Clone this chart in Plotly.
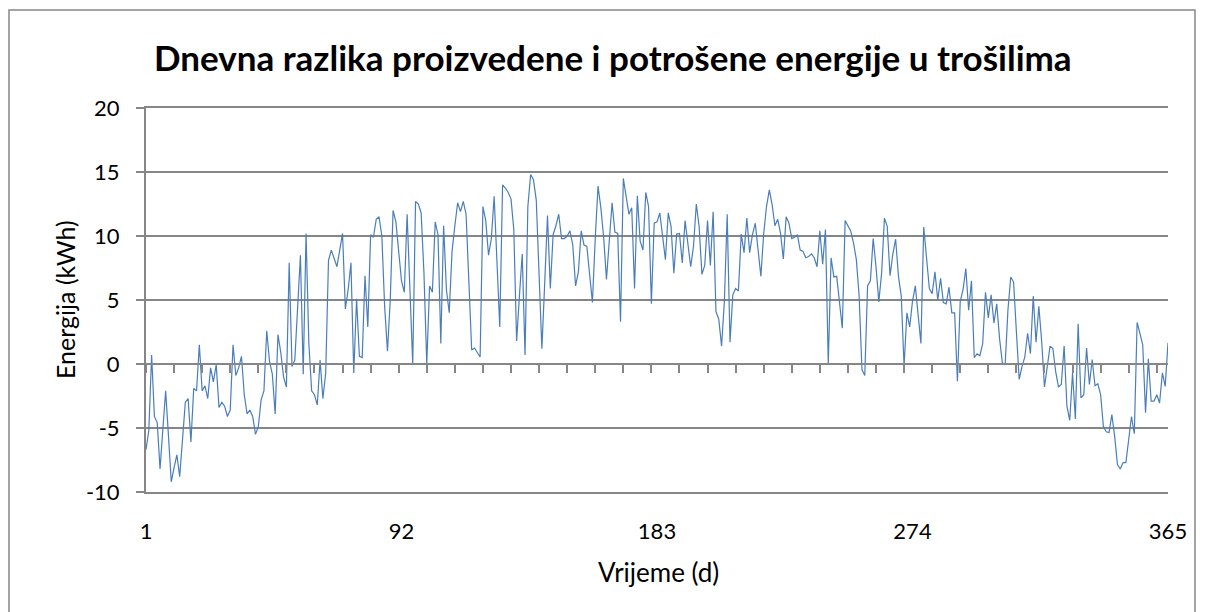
import plotly.graph_objects as go

# Daily difference between produced and consumed energy (kWh), days 1..365
days = list(range(1, 366))
energy_kwh = [
    # 1-41
    -6.7, -5.2, 0.7, -4.1, -4.6, -8.2, -5.1, -2.1, -5.6, -9.2,
    -8.1, -7.1, -8.8, -5.6, -3.0, -2.7, -6.1, -1.9, -2.1, 1.5,
    -2.1, -1.7, -2.7, -0.3, -1.4, -0.05, -3.4, -3.0, -3.3, -4.1,
    -3.6, 1.5, -0.9, -0.3, 0.6, -2.4, -3.9, -3.6, -4.1, -5.5,
    -4.9,
    # 42-82
    -2.8, -2.1, 2.6, 0.2, -0.8, -3.9, 2.3, 0.9, -1.0, -1.8,
    7.9, -0.2, 0.3, 4.5, 8.5, -0.8, 10.2, 1.6, -2.1, -2.4,
    -3.2, 0.3, -2.7, -0.7, 8.1, 8.9, 8.3, 7.6, 8.9, 10.2,
    4.3, 5.8, 7.9, -0.7, 5.1, 0.6, 0.5, 6.9, 2.9, 10.1,
    9.9,
    # 83-123
    11.3, 11.5, 10.0, 4.5, 1.0, 5.0, 12.0, 11.1, 8.9, 6.5,
    5.6, 11.7, 5.8, 0.0, 12.7, 12.5, 11.8, 7.1, 0.0, 6.1,
    5.6, 11.1, 10.1, 1.6, 10.8, 5.8, 4.0, 8.8, 10.8, 12.6,
    11.9, 12.7, 11.7, 6.1, 1.1, 1.25, 0.9, 0.55, 12.3, 11.2,
    8.5,
    # 124-164
    9.8, 13.1, 8.5, 2.9, 14.0, 13.75, 13.4, 12.9, 10.5, 1.8,
    5.3, 8.6, 0.7, 12.3, 14.8, 14.4, 12.8, 6.5, 1.2, 6.3,
    11.6, 5.9, 10.1, 10.8, 11.7, 9.8, 9.8, 10.0, 10.4, 9.3,
    6.1, 7.2, 10.4, 9.3, 9.2, 7.0, 4.8, 9.8, 13.9, 12.2,
    9.9,
    # 165-205
    6.6, 9.7, 12.6, 10.3, 10.2, 3.3, 14.5, 13.1, 11.7, 12.2,
    5.9, 13.15, 9.6, 8.9, 13.4, 12.3, 4.7, 11.0, 11.1, 11.8,
    10.1, 8.15, 11.8, 10.75, 7.1, 10.15, 10.2, 7.9, 11.2, 9.3,
    7.6, 9.2, 12.5, 10.75, 7.0, 7.7, 11.2, 7.7, 11.9, 4.1,
    3.5,
    # 206-246
    1.4, 4.9, 11.7, 1.7, 5.4, 5.9, 5.7, 10.15, 8.7, 11.4,
    8.7, 10.1, 11.0, 8.9, 6.85, 10.2, 12.3, 13.6, 12.45, 10.8,
    11.3, 10.2, 8.2, 11.5, 11.0, 9.8, 9.9, 10.1, 8.9, 8.8,
    8.3, 8.4, 8.6, 8.3, 7.6, 10.4, 7.8, 10.5, 0.0, 8.3,
    6.8,
    # 247-287
    6.85, 4.8, 2.8, 11.2, 10.75, 10.4, 9.45, 8.15, 5.3, -0.45,
    -0.9, 6.1, 6.5, 9.8, 7.6, 4.85, 7.1, 11.4, 10.75, 6.9,
    8.6, 9.75, 6.85, 5.3, -0.2, 4.0, 2.9, 4.9, 6.1, 4.0,
    1.6, 10.7, 8.15, 5.9, 5.5, 7.2, 5.0, 6.7, 4.8, 4.7,
    6.0,
    # 288-328
    4.0, 4.0, -1.35, 4.9, 5.8, 7.45, 4.2, 6.5, 0.5, 0.8,
    0.65, 1.6, 5.6, 3.6, 5.4, 3.2, 4.7, 2.0, 0.1, -0.05,
    4.25, 6.8, 6.4, 2.55, -1.2, -0.2, 0.55, 2.4, 0.8, 5.3,
    1.7, 4.5, 1.8, -1.8, -0.2, 1.4, 1.2, -0.6, -1.8, -1.6,
    1.4,
    # 329-365
    -3.3, -4.4, -0.7, -4.3, 3.15, -2.65, -2.4, 1.25, -1.6, 0.35,
    -1.7, -1.55, -2.4, -4.9, -5.3, -5.35, -3.95, -5.65, -7.85, -8.2,
    -7.7, -7.7, -5.65, -4.1, -5.45, 3.25, 2.4, 1.5, -3.8, 0.4,
    -2.9, -2.9, -2.4, -3.05, -0.7, -1.75, 1.65,
]

x_labels = [1, 92, 183, 274, 365]
minor_ticks = list(range(1, 366, 10))
y_ticks = [-10, -5, 0, 5, 10, 15, 20]

GREY = "#868686"
LINE_BLUE = "#4A7EBB"
FONT = "Lato, Carlito, Calibri, sans-serif"

W, H = 1206, 612
L, R, T, B = 146, 38, 108, 120


def px_x(px):
    return (px - L) / (W - L - R)


def px_y(py):
    return (H - B - py) / (H - T - B)


fig = go.Figure()
fig.add_trace(go.Scatter(
    x=days, y=energy_kwh, mode="lines",
    line=dict(color=LINE_BLUE, width=1.2),
    showlegend=False, hoverinfo="x+y",
))
# helper trace so the zero-crossing category axis is rendered
fig.add_trace(go.Scatter(
    x=[days[0], days[-1]], y=[None, None], xaxis="x2",
    mode="lines", showlegend=False, hoverinfo="skip",
))

fig.update_layout(
    width=W, height=H,
    margin=dict(l=L, r=R, t=T, b=B),
    paper_bgcolor="white", plot_bgcolor="white",
    font=dict(family=FONT, color="#000000"),
    xaxis=dict(
        range=[1, 365], tickvals=x_labels, ticktext=[str(v) for v in x_labels],
        showgrid=False, zeroline=False,
        # bottom and top borders act as the -10 and 20 gridlines
        showline=True, mirror=True, linecolor=GREY, linewidth=1.6, ticks="",
        tickfont=dict(size=22), ticklabelstandoff=19,
    ),
    xaxis2=dict(
        overlaying="x", anchor="free", position=px_y(364), range=[1, 365],
        tickvals=minor_ticks, ticks="outside", ticklen=8, tickwidth=2,
        tickcolor=GREY, showticklabels=False, showgrid=False, zeroline=False,
        showline=True, linecolor=GREY, linewidth=2,
    ),
    yaxis=dict(
        range=[-10, 20], tickvals=y_ticks, ticktext=[str(v) for v in y_ticks],
        showgrid=True, gridcolor=GREY,
        gridwidth=1.6, zeroline=False, showline=True, linecolor=GREY,
        linewidth=2, ticks="outside", ticklen=8, tickwidth=1.6, tickcolor=GREY,
        tickfont=dict(size=22), ticklabelstandoff=12,
    ),
    shapes=[
        dict(type="rect", xref="paper", yref="paper",
             x0=px_x(9), x1=px_x(1195), y0=px_y(640), y1=px_y(10),
             line=dict(color=GREY, width=1.5), layer="below"),
    ],
    annotations=[
        dict(text="<b>Dnevna razlika proizvedene i potrošene energije u trošilima</b>",
             xref="paper", yref="paper", x=px_x(613), y=px_y(57),
             xanchor="center", yanchor="middle", showarrow=False,
             font=dict(size=35, family=FONT)),
        dict(text="Energija (kWh)", textangle=-90,
             xref="paper", yref="paper", x=px_x(65), y=px_y(300),
             xanchor="center", yanchor="middle", showarrow=False,
             font=dict(size=25, family=FONT)),
        dict(text="Vrijeme (d)",
             xref="paper", yref="paper", x=px_x(658), y=px_y(572),
             xanchor="center", yanchor="middle", showarrow=False,
             font=dict(size=26, family=FONT)),
    ],
)

fig.write_html("out.html")
